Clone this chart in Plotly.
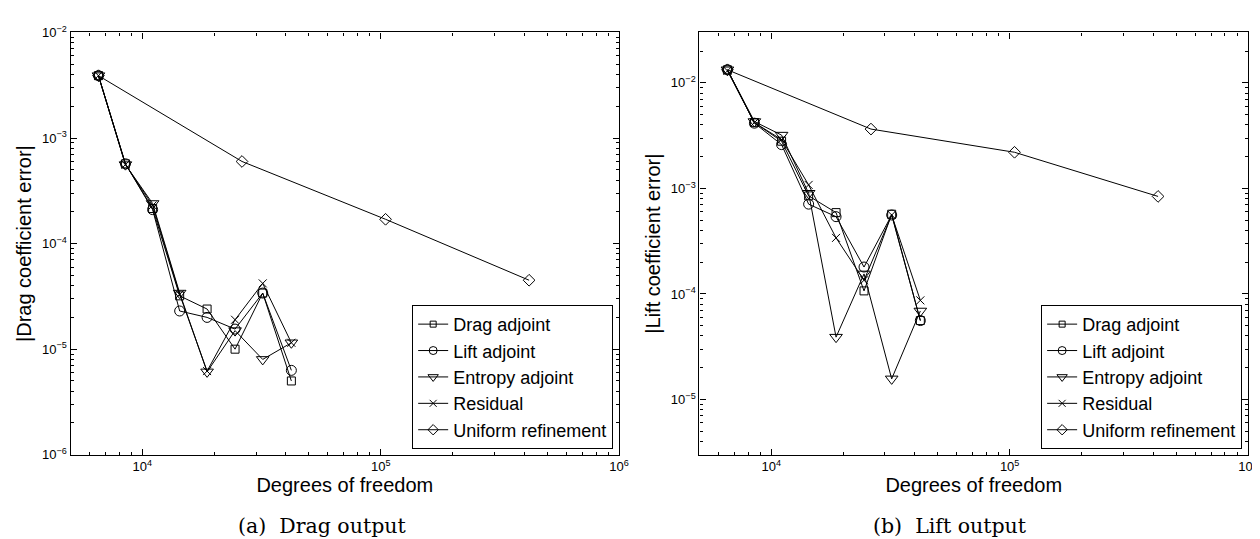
import plotly.graph_objects as go

# ---------------- data ----------------
dof = [6550, 8500, 11050, 14350, 18700, 24500, 32000, 42200]
dof_uniform = [6550, 26200, 104800, 419200]

series_names = ["Drag adjoint", "Lift adjoint", "Entropy adjoint", "Residual", "Uniform refinement"]

# (a) Drag output
drag_drag_adj = [3.9e-3, 5.7e-4, 2.15e-4, 3.2e-5, 2.4e-5, 1.0e-5, 3.4e-5, 5.0e-6]
drag_lift_adj = [3.9e-3, 5.7e-4, 2.1e-4, 2.3e-5, 2.0e-5, 1.55e-5, 3.4e-5, 6.3e-6]
drag_entropy_adj = [3.9e-3, 5.6e-4, 2.4e-4, 3.4e-5, 6.1e-6, 1.5e-5, 8.0e-6, 1.15e-5]
drag_residual = [3.9e-3, 5.6e-4, 2.3e-4, 3.3e-5, 6.2e-6, 1.9e-5, 4.2e-5, 1.15e-5]
drag_uniform = [3.9e-3, 6.0e-4, 1.7e-4, 4.5e-5]

# (b) Lift output
lift_drag_adj = [1.33e-2, 4.2e-3, 2.8e-3, 8.5e-4, 5.9e-4, 1.07e-4, 5.7e-4, 5.6e-5]
lift_lift_adj = [1.33e-2, 4.15e-3, 2.6e-3, 7.1e-4, 5.4e-4, 1.8e-4, 5.6e-4, 5.6e-5]
lift_entropy_adj = [1.33e-2, 4.3e-3, 3.2e-3, 9.0e-4, 3.9e-5, 1.55e-4, 1.57e-5, 6.9e-5]
lift_residual = [1.3e-2, 4.2e-3, 2.9e-3, 1.08e-3, 3.4e-4, 1.35e-4, 5.6e-4, 8.7e-5]
lift_uniform = [1.33e-2, 3.65e-3, 2.2e-3, 8.4e-4]

x_tickvals = [1e4, 1e5, 1e6]
x_ticktext = ["10<sup>4</sup>", "10<sup>5</sup>", "10<sup>6</sup>"]
y1_tickvals = [1e-6, 1e-5, 1e-4, 1e-3, 1e-2]
y1_ticktext = ["10<sup>−6</sup>", "10<sup>−5</sup>", "10<sup>−4</sup>", "10<sup>−3</sup>", "10<sup>−2</sup>"]
y2_tickvals = [1e-5, 1e-4, 1e-3, 1e-2]
y2_ticktext = ["10<sup>−5</sup>", "10<sup>−4</sup>", "10<sup>−3</sup>", "10<sup>−2</sup>"]

captions = ["(a)  Drag output", "(b)  Lift output"]
y_titles = ["|Drag coefficient error|", "|Lift coefficient error|"]
x_title = "Degrees of freedom"

# ---------------- styling ----------------
W, H = 1260, 539
FONT = "Liberation Sans, Arial, sans-serif"
symbols = ["square-open", "circle-open", "triangle-down-open", "x-thin-open", "diamond-open"]
sizes = [8, 10, 11, 8, 9]
legend_sizes = [6, 8, 9, 7, 8]

def px_x(p):
    return p / W

def px_y(p):
    return 1 - p / H

fig = go.Figure()

panels = [
    ("x", "y", "legend",
     [drag_drag_adj, drag_lift_adj, drag_entropy_adj, drag_residual], drag_uniform),
    ("x2", "y2", "legend2",
     [lift_drag_adj, lift_lift_adj, lift_entropy_adj, lift_residual], lift_uniform),
]

for xa, ya, lg, adaptive, uniform in panels:
    all_series = [(dof, s) for s in adaptive] + [(dof_uniform, uniform)]
    for i, (xs, ys) in enumerate(all_series):
        fig.add_trace(go.Scatter(
            x=xs, y=ys, xaxis=xa, yaxis=ya, mode="lines+markers",
            line=dict(color="black", width=1),
            marker=dict(symbol=symbols[i], size=sizes[i], color="black",
                        line=dict(color="black", width=1)),
            showlegend=False, name=series_names[i], hoverinfo="skip"))
    # legend entries (smaller markers, as in the original)
    for i in range(5):
        fig.add_trace(go.Scatter(
            x=[None], y=[None], xaxis=xa, yaxis=ya, mode="lines+markers",
            line=dict(color="black", width=1),
            marker=dict(symbol=symbols[i], size=legend_sizes[i], color="black",
                        line=dict(color="black", width=1)),
            showlegend=True, legend=lg, name=series_names[i]))

axis_common = dict(
    type="log", showline=True, linecolor="black", linewidth=1.3, mirror="allticks",
    ticks="inside", ticklen=6, tickwidth=1, tickcolor="black",
    showgrid=False, zeroline=False,
    tickfont=dict(family=FONT, size=13, color="black"),
    minor=dict(ticks="inside", ticklen=3, tickwidth=1, tickcolor="black",
               dtick="D1", showgrid=False),
)

y_bottom = px_y(452)
y_top = px_y(16)

legend_common = dict(xanchor="right", yanchor="bottom",
                     bgcolor="white", bordercolor="black", borderwidth=1,
                     font=dict(family=FONT, size=18, color="black"),
                     tracegroupgap=0, itemwidth=30)

fig.update_layout(
    width=W, height=H,
    margin=dict(l=0, r=0, t=0, b=0),
    paper_bgcolor="white", plot_bgcolor="white",
    font=dict(family=FONT, color="black"),
    xaxis=dict(axis_common, domain=[px_x(63), px_x(616)], anchor="y",
               range=[3.69897, 6], tickvals=x_tickvals, ticktext=x_ticktext,
               title=dict(text=x_title, font=dict(size=20, family=FONT), standoff=4)),
    yaxis=dict(axis_common, domain=[y_bottom, y_top], anchor="x",
               range=[-6, -2], tickvals=y1_tickvals, ticktext=y1_ticktext,
               title=dict(text=y_titles[0], font=dict(size=20, family=FONT), standoff=4)),
    xaxis2=dict(axis_common, domain=[px_x(697), px_x(1250)], anchor="y2",
                range=[3.69897, 6], tickvals=x_tickvals, ticktext=x_ticktext,
                title=dict(text=x_title, font=dict(size=20, family=FONT), standoff=4)),
    yaxis2=dict(axis_common, domain=[y_bottom, y_top], anchor="x2",
                range=[-5.5229, -1.5229], tickvals=y2_tickvals, ticktext=y2_ticktext,
                title=dict(text=y_titles[1], font=dict(size=20, family=FONT), standoff=4)),
    legend=dict(legend_common, x=px_x(610), y=px_y(446)),
    legend2=dict(legend_common, x=px_x(1244), y=px_y(446)),
    annotations=[
        dict(text=captions[0], x=px_x(317), y=px_y(526), xref="paper", yref="paper",
             showarrow=False, xanchor="center", yanchor="middle",
             font=dict(family="DejaVu Serif, serif", size=20.5, color="black")),
        dict(text=captions[1], x=px_x(950), y=px_y(526), xref="paper", yref="paper",
             showarrow=False, xanchor="center", yanchor="middle",
             font=dict(family="DejaVu Serif, serif", size=20.5, color="black")),
    ],
)

fig.write_html("out.html")
